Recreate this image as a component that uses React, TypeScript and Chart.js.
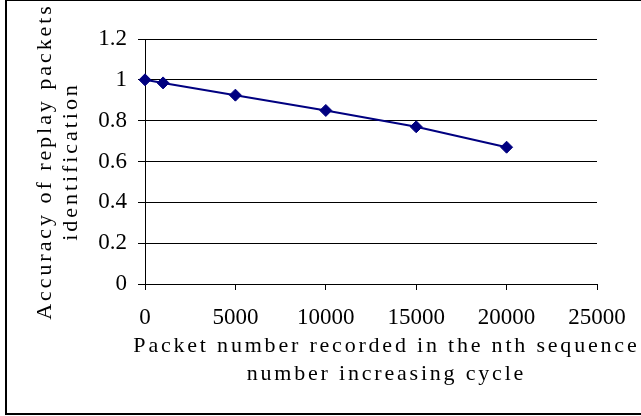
import React, { useEffect, useRef } from "react";
import { Chart, registerables } from "chart.js";

Chart.register(...registerables);

const xValues = [0, 1000, 5000, 10000, 15000, 20000];
const accuracy = [1.0, 0.985, 0.925, 0.85, 0.77, 0.67];
const xTitle = ["Packet number recorded in the nth sequence", "number increasing cycle"];
const yTitle = ["Accuracy of replay packets", "identification"];

const FONT = "'Liberation Serif', 'Times New Roman', serif";
const Y_SPACING = 2.95;
const X_SPACING = 2.8;

const textPlugin = {
  id: "axisText",
  beforeDraw(chart: any) {
    (chart.ctx as any).letterSpacing = Y_SPACING + "px";
  },
  afterDatasetsDraw(chart: any) {
    (chart.ctx as any).letterSpacing = "0px";
  },
  afterDraw(chart: any) {
    const ctx = chart.ctx as any;
    const area = chart.chartArea;
    ctx.save();
    ctx.letterSpacing = X_SPACING + "px";
    ctx.font = "22px " + FONT;
    ctx.fillStyle = "#000";
    ctx.textAlign = "center";
    ctx.textBaseline = "middle";
    const cx = (area.left + area.right) / 2 + 14 + X_SPACING / 2;
    xTitle.forEach((line, i) => {
      ctx.fillText(line, cx, area.bottom + 62 + i * 28);
    });
    ctx.restore();
  },
};

export default function App() {
  const ref = useRef<HTMLCanvasElement | null>(null);
  useEffect(() => {
    if (!ref.current) return;
    const chart = new Chart(ref.current, {
      type: "line",
      data: {
        datasets: [
          {
            data: xValues.map((x, i) => ({ x, y: accuracy[i] })),
            borderColor: "#000080",
            backgroundColor: "#000080",
            borderWidth: 2,
            pointStyle: "rectRot",
            pointRadius: 6,
            pointBorderWidth: 1,
            pointBorderColor: "#000080",
            pointBackgroundColor: "#000080",
            clip: false,
            tension: 0,
          },
        ],
      },
      options: {
        animation: false,
        responsive: false,
        events: [],
        layout: { padding: { top: 39, right: 44, left: 0, bottom: 0 } },
        plugins: { legend: { display: false }, tooltip: { enabled: false } },
        scales: {
          x: {
            type: "linear",
            min: 0,
            max: 25000,
            ticks: {
              stepSize: 5000,
              color: "#000",
              padding: 14,
              z: 1,
              font: { family: FONT, size: 23, lineHeight: 1.2 },
              callback: (v: any) => String(v),
            },
            grid: { drawOnChartArea: false, drawTicks: true, tickLength: 6, color: "#000", lineWidth: 1 },
            border: { color: "#000", width: 1 },
            title: { display: false },
            afterFit: (s: any) => {
              s.height = 132;
            },
          },
          y: {
            min: 0,
            max: 1.2,
            ticks: {
              stepSize: 0.2,
              color: "#000",
              padding: 11,
              z: 1,
              font: { family: FONT, size: 23, lineHeight: 1.2 },
              callback: (v: any) => String(Math.round(Number(v) * 10) / 10),
            },
            grid: { drawTicks: true, tickLength: 7, color: "#000", lineWidth: 1 },
            border: { color: "#000", width: 1 },
            title: {
              display: true,
              text: yTitle,
              color: "#000",
              font: { family: FONT, size: 22, lineHeight: 1.2 },
              padding: { top: 32, bottom: 0 },
            },
            afterFit: (s: any) => {
              s.width = 145;
            },
          },
        },
      },
      plugins: [textPlugin],
    });
    return () => chart.destroy();
  }, []);

  return (
    <div style={{ position: "fixed", left: 0, top: 0, width: 641, height: 416, background: "#fff", overflow: "hidden" }}>
      <div
        style={{
          position: "absolute",
          left: 5,
          top: 0,
          width: 640,
          height: 415,
          borderTop: "1px solid #000",
          borderLeft: "2px solid #000",
          borderBottom: "2px solid #000",
          boxSizing: "border-box",
        }}
      />
      <canvas ref={ref} width={641} height={416} style={{ position: "absolute", left: 0, top: 0, display: "block" }} />
    </div>
  );
}
